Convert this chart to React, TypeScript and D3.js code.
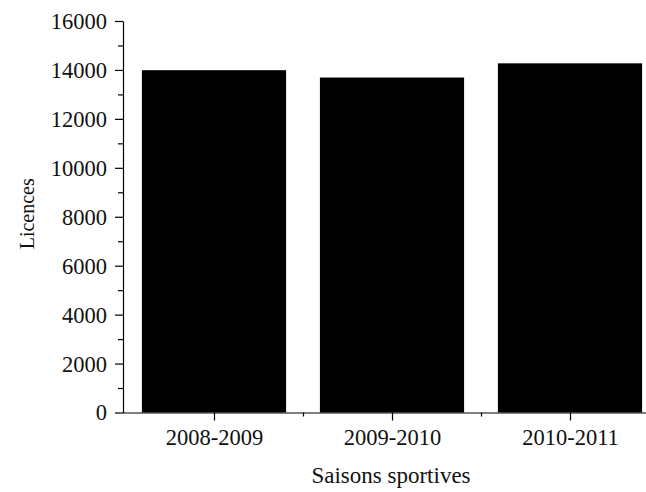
import React, { useEffect, useRef } from 'react';
import * as d3 from 'd3';

const seasons = ['2008-2009', '2009-2010', '2010-2011'];
const licences = [13990, 13690, 14270];
const yTicks = [0, 2000, 4000, 6000, 8000, 10000, 12000, 14000, 16000];
const yMinorTicks = [1000, 3000, 5000, 7000, 9000, 11000, 13000, 15000];

const xLabel = 'Saisons sportives';
const yLabel = 'Licences';

export default function App() {
    const width = 646;
    const height = 492;
    const axisX = 123;
    const plotLeft = 125;
    const plotRight = 659;
    const plotTop = 21;
    const plotBottom = 412.5;
    const font = '"Liberation Serif", "Times New Roman", serif';

    const ref = useRef(null);

    useEffect(() => {
        const svg = d3.select(ref.current);
        svg.selectAll('*').remove();

        const scaleX = d3.scaleBand()
            .domain(seasons)
            .range([plotLeft, plotRight])
            .paddingInner(0.19)
            .paddingOuter(0.095);
        const scaleY = d3.scaleLinear()
            .domain([0, 16000])
            .range([plotBottom, plotTop]);

        // bars
        svg.selectAll('rect.bar')
            .data(licences)
            .enter()
            .append('rect')
              .attr('class', 'bar')
              .attr('x', (_d, i) => scaleX(seasons[i]) as number)
              .attr('y', d => scaleY(d))
              .attr('width', scaleX.bandwidth())
              .attr('height', d => plotBottom - scaleY(d))
              .attr('fill', '#000');

        // y axis, major + minor ticks
        const yAxis = svg.append('g')
            .attr('transform', `translate(${axisX}, 0)`)
            .call(d3.axisLeft(scaleY)
                .tickValues(yTicks)
                .tickSize(8)
                .tickSizeOuter(0)
                .tickPadding(8)
                .tickFormat(d3.format('d')));
        svg.append('g')
            .attr('transform', `translate(${axisX}, 0)`)
            .call(d3.axisLeft(scaleY)
                .tickValues(yMinorTicks)
                .tickSize(5)
                .tickFormat(() => ''))
            .select('.domain').remove();

        // x axis: major ticks at band centres, minor ticks between bands
        const step = scaleX.step();
        const centres = seasons.map(s => (scaleX(s) as number) + scaleX.bandwidth() / 2);
        const scaleXLin = d3.scaleLinear().domain([plotLeft, plotRight]).range([plotLeft, plotRight]);
        const xAxis = svg.append('g')
            .attr('transform', `translate(0, ${plotBottom})`)
            .call(d3.axisBottom(scaleXLin)
                .tickValues(centres)
                .tickSize(8)
                .tickSizeOuter(0)
                .tickPadding(9)
                .tickFormat((_d, i) => seasons[i]));
        xAxis.select('.domain').attr('d', `M${axisX},0.5H${plotRight}`);
        svg.append('g')
            .attr('transform', `translate(0, ${plotBottom})`)
            .call(d3.axisBottom(scaleXLin)
                .tickValues(centres.slice(0, -1).map(c => c + step / 2))
                .tickSize(4)
                .tickFormat(() => ''))
            .select('.domain').remove();

        svg.selectAll('.tick text')
            .attr('font-family', font)
            .attr('font-size', 22.5)
            .attr('fill', '#111');
        yAxis.selectAll('.tick text').attr('dy', '0.33em');
        svg.selectAll('.domain, .tick line')
            .attr('stroke', '#000')
            .attr('stroke-width', 1.2);

        svg.append('text')
            .attr('x', (plotLeft + 659) / 2 - 1)
            .attr('y', 483)
            .attr('text-anchor', 'middle')
            .attr('font-family', font)
            .attr('font-size', 23)
            .attr('fill', '#111')
            .text(xLabel);
        svg.append('text')
            .attr('transform', `translate(34, ${(plotTop + plotBottom) / 2 - 3}) rotate(-90)`)
            .attr('text-anchor', 'middle')
            .attr('font-family', font)
            .attr('font-size', 20)
            .attr('fill', '#111')
            .text(yLabel);
    }, []);

    return (
        <svg ref={ref} width={width} height={height} viewBox={`0 0 ${width} ${height}`}
            style={{ position: 'absolute', left: 0, top: 0, background: '#fff' }}>
        </svg>
    );
}
